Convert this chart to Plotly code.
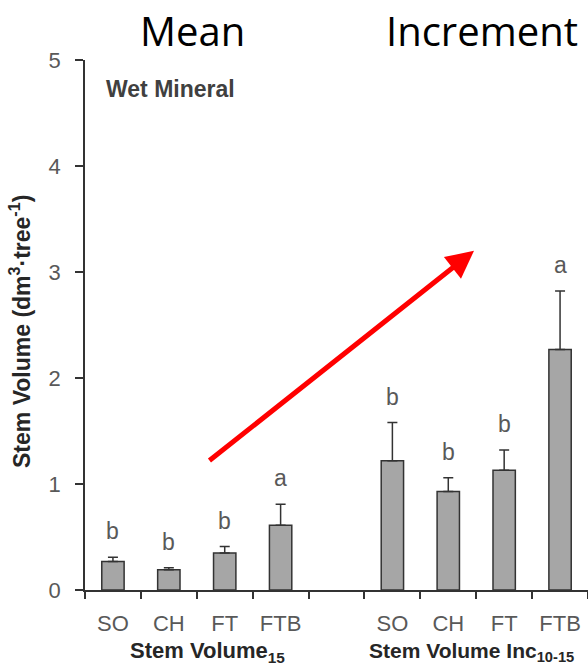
import plotly.graph_objects as go

# Stem volume per tree, Wet Mineral sites
treatments = ["SO", "CH", "FT", "FTB"]
mean_vol = [0.27, 0.19, 0.35, 0.61]          # Stem Volume 15
mean_err = [0.04, 0.02, 0.06, 0.20]
inc_vol = [1.22, 0.93, 1.13, 2.27]           # Stem Volume Inc 10-15
inc_err = [0.36, 0.13, 0.19, 0.55]
mean_letters = ["b", "b", "b", "a"]
inc_letters = ["b", "b", "b", "a"]

# bar slots on the x scale: four treatments, one empty slot, four treatments
mean_x = [0, 1, 2, 3]
inc_x = [5, 6, 7, 8]
y_ticks = [0, 1, 2, 3, 4, 5]

# red trend arrow (data units): from tail to head
arrow_tail = (1.70, 1.21)
arrow_head = (6.46, 3.20)

BAR_FILL = "#a6a6a6"
EDGE = "#333333"
TEXT_GRAY = "#595959"
ARIAL = "Liberation Sans, Arial, sans-serif"

fig = go.Figure()
for xs, ys, errs in [(mean_x, mean_vol, mean_err), (inc_x, inc_vol, inc_err)]:
    fig.add_trace(go.Bar(
        x=xs, y=ys, width=0.4, textposition="none",
        marker=dict(color=BAR_FILL, line=dict(color=EDGE, width=1.5)),
        error_y=dict(type="data", symmetric=False, array=errs,
                     arrayminus=[0] * len(errs),
                     color=EDGE, thickness=1.5, width=5),
        showlegend=False, hoverinfo="skip",
    ))

# significance letters above the error bars
for xs, ys, errs, letters in [(mean_x, mean_vol, mean_err, mean_letters),
                              (inc_x, inc_vol, inc_err, inc_letters)]:
    for x, y, e, t in zip(xs, ys, errs, letters):
        fig.add_annotation(x=x, y=y + e, text=t, showarrow=False,
                           yanchor="bottom", yshift=11,
                           font=dict(family=ARIAL, size=23, color=TEXT_GRAY))

boundaries = [i - 0.5 for i in range(10)]
fig.update_xaxes(
    range=[-0.5, 8.5], showgrid=False, zeroline=False,
    showline=True, linecolor=EDGE, linewidth=1.5,
    tickmode="array", tickvals=mean_x + inc_x, ticktext=treatments + treatments,
    ticks="", ticklabelstandoff=13,
    tickfont=dict(family=ARIAL, size=22, color=TEXT_GRAY),
    minor=dict(tickmode="array", tickvals=boundaries, ticks="outside",
               ticklen=7, tickwidth=1.5, tickcolor=EDGE, showgrid=False),
)
fig.update_yaxes(
    range=[0, 5], showgrid=False, zeroline=False,
    showline=True, linecolor=EDGE, linewidth=1.5,
    tickmode="array", tickvals=y_ticks,
    ticks="outside", ticklen=8, tickwidth=1.5, tickcolor=EDGE,
    ticklabelstandoff=10,
    tickfont=dict(family=ARIAL, size=22, color=TEXT_GRAY),
)

# axis and group titles
fig.add_annotation(xref="paper", yref="paper", x=-0.129, y=0.487,
                   text="Stem Volume (dm<sup>3</sup>·tree<sup>-1</sup>)",
                   textangle=-90, showarrow=False,
                   xanchor="center", yanchor="middle",
                   font=dict(family=ARIAL, size=23, color="#262626", weight="bold"))
fig.add_annotation(xref="x", yref="paper", x=1.7, y=-0.117,
                   text="Stem Volume<sub>15</sub>", showarrow=False,
                   xanchor="center", yanchor="middle",
                   font=dict(family=ARIAL, size=22, color="#262626", weight="bold"))
fig.add_annotation(xref="x", yref="paper", x=6.42, y=-0.117,
                   text="Stem Volume Inc<sub>10-15</sub>", showarrow=False,
                   xanchor="center", yanchor="middle",
                   font=dict(family=ARIAL, size=21, color="#262626", weight="bold"))
fig.add_annotation(xref="paper", yref="paper", x=0.037, y=0.945,
                   text="Wet Mineral", showarrow=False,
                   xanchor="left", yanchor="middle",
                   font=dict(family=ARIAL, size=23, color="#404040", weight="bold"))

# panel headings
fig.add_annotation(xref="x", yref="paper", x=1.43, y=1.0, yshift=30,
                   text="Mean", showarrow=False, xanchor="center", yanchor="middle",
                   font=dict(family="Open Sans, sans-serif", size=40, color="black"))
fig.add_annotation(xref="x", yref="paper", x=6.6, y=1.0, yshift=30,
                   text="Increment", showarrow=False, xanchor="center", yanchor="middle",
                   font=dict(family="Open Sans, sans-serif", size=40, color="black"))

# trend arrow
fig.add_annotation(x=arrow_head[0], y=arrow_head[1], ax=arrow_tail[0], ay=arrow_tail[1],
                   xref="x", yref="y", axref="x", ayref="y",
                   text="", showarrow=True, arrowhead=2, arrowsize=1.1,
                   arrowwidth=5, arrowcolor="#ff0000")

fig.update_layout(
    width=588, height=668,
    margin=dict(l=85, r=0, t=60, b=78, autoexpand=False),
    plot_bgcolor="white", paper_bgcolor="white",
    bargap=0.6,
)

fig.write_html("out.html", config={"displayModeBar": False})
